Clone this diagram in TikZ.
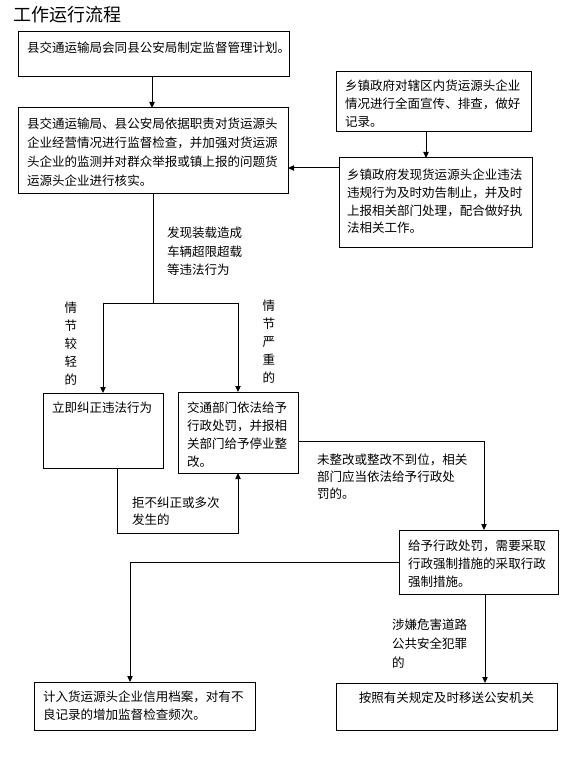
\documentclass[tikz,border=0pt]{standalone}
\usepackage{fontspec}
\setmainfont{Noto Sans CJK SC}
\usetikzlibrary{arrows.meta,fit}
\newcommand\mlines[2][13.5pt]{{\fontsize{9.4pt}{#1}\selectfont\begin{tabular}[t]{@{}l@{}}#2\end{tabular}}}
\newcommand\vlines[1]{{\fontsize{9.4pt}{13.5pt}\selectfont\begin{tabular}[t]{@{}c@{}}#1\end{tabular}}}
\begin{document}
\begin{tikzpicture}[x=0.75pt,y=-0.75pt,
  box/.style={draw,line width=0.75pt,inner sep=0,outer sep=0},
  txt/.style={anchor=base west,inner sep=0,outer sep=0},
  ctxt/.style={anchor=base,inner sep=0,outer sep=0},
  conn/.style={line width=0.75pt},
  arr/.style={conn,-{Triangle[length=4.5pt,width=4pt]}}]
\useasboundingbox (0,0) rectangle (574,784);
\fill[white] (0,0) rectangle (574,784);

\node[anchor=base west,inner sep=0,font=\fontsize{13.5pt}{16pt}\selectfont] (title) at (13,21.8) {工作运行流程};

% boxes
\node[box,fit={(18,32) (289,77)}] (b1) {};
\node[box,fit={(18,108) (288,194)}] (b2) {};
\node[box,fit={(336,72) (531,132)}] (b3) {};
\node[box,fit={(339,158) (532,247)}] (b4) {};
\node[box,fit={(43,393) (163,468)}] (b5) {};
\node[box,fit={(178,392) (298,473)}] (b6) {};
\node[box,fit={(399,530) (558,594)}] (b7) {};
\node[box,fit={(34,682) (255,730)}] (b8) {};
\node[box,fit={(336,683) (557,730)}] (b9) {};

% box texts
\node[txt] (t1) at ([shift={(9,20.3)}]b1.north west) {\mlines{县交通运输局会同县公安局制定监督管理计划。}};
\node[txt] (t2) at ([shift={(9,20.3)}]b2.north west) {\mlines[14.25pt]{县交通运输局、县公安局依据职责对货运源头\\企业经营情况进行监督检查，并加强对货运源\\头企业的监测并对群众举报或镇上报的问题货\\运源头企业进行核实。}};
\node[txt] (t3) at ([shift={(9,18.8)}]b3.north west) {\mlines{乡镇政府对辖区内货运源头企业\\情况进行全面宣传、排查，做好\\记录。}};
\node[txt] (t4) at ([shift={(8,21.8)}]b4.north west) {\mlines[13.3pt]{乡镇政府发现货运源头企业违法\\违规行为及时劝告制止，并及时\\上报相关部门处理，配合做好执\\法相关工作。}};
\node[txt] (t5) at ([shift={(9,19.8)}]b5.north west) {\mlines{立即纠正违法行为}};
\node[txt] (t6) at ([shift={(9,20.8)}]b6.north west) {\mlines[13.3pt]{交通部门依法给予\\行政处罚，并报相\\关部门给予停业整\\改。}};
\node[txt] (t7) at ([shift={(9,20.8)}]b7.north west) {\mlines{给予行政处罚，需要采取\\行政强制措施的采取行政\\强制措施。}};
\node[txt] (t8) at ([shift={(9,19.8)}]b8.north west) {\mlines{计入货运源头企业信用档案，对有不\\良记录的增加监督检查频次。}};
\node[ctxt] (t9) at ([shift={(0,19.8)}]b9.north) {\mlines{按照有关规定及时移送公安机关}};

% labels
\node[txt] (l1) at (167,237.8) {\mlines[13.9pt]{发现装载造成\\车辆超限超载\\等违法行为}};
\node[ctxt] (l2) at (71,312.8) {\vlines{情\\节\\较\\轻\\的}};
\node[ctxt] (l3) at (269,310.8) {\vlines{情\\节\\严\\重\\的}};
\node[txt] (l4) at (132,507.8) {\mlines[12.5pt]{拒不纠正或多次\\发生的}};
\node[txt] (l5) at (317,464.8) {\mlines[12.75pt]{未整改或整改不到位，相关\\部门应当依法给予行政处\\罚的。}};
\node[txt] (l6) at (392,629.8) {\mlines[14pt]{涉嫌危害道路\\公共安全犯罪\\的}};

% helper coordinates
\coordinate (c1) at (152,0);
\coordinate (c3) at (426,0);
\coordinate (c4) at (0,168);
\coordinate (j) at (153,303);
\coordinate (lp) at (117,533);
\coordinate (c7) at (484,441);
\coordinate (c8) at (130,562);
\coordinate (c9) at (485,0);

% connectors
\draw[arr] (c1 |- b1.south) -- (c1 |- b2.north);
\draw[arr] (c3 |- b3.south) -- (c3 |- b4.north);
\draw[arr] (b4.west |- c4) -- (b2.east |- c4);
\draw[conn] (j |- b2.south) -- (j);
\draw[arr] (j) -| (b5.north);
\draw[arr] (j) -| (b6.north);
\draw[arr] (lp |- b5.south) -- (lp) -| (b6.south);
\draw[arr] (b6.east |- c7) -- (c7) -- (c7 |- b7.north);
\draw[arr] (b7.west |- c8) -- (c8) -- (c8 |- b8.north);
\draw[arr] (c9 |- b7.south) -- (c9 |- b9.north);
\end{tikzpicture}
\end{document}
